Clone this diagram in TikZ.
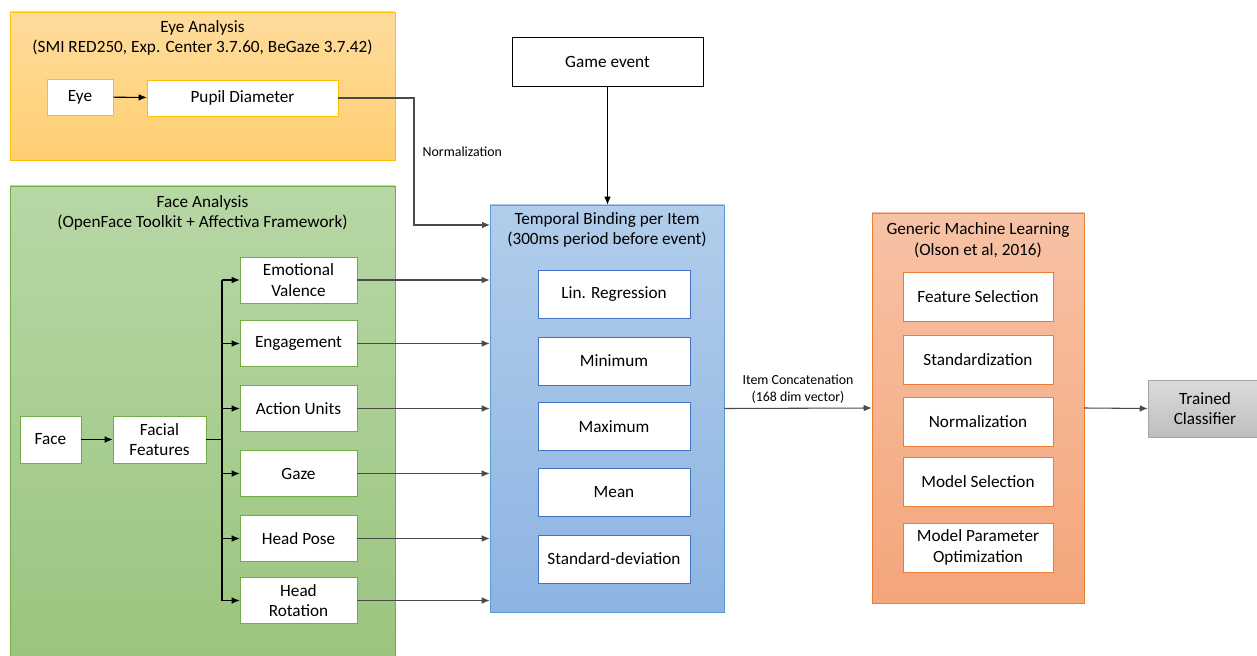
\documentclass[tikz,border=0pt]{standalone}
\usepackage{fontspec}
\setmainfont{Carlito}
\usepackage{tikz}
\usetikzlibrary{positioning}
\usetikzlibrary{arrows.meta}
\definecolor{eyeColor}{HTML}{FFC000}
\definecolor{eyeTop}{HTML}{FFDC9C}
\definecolor{eyeBottom}{HTML}{FFCE72}
\definecolor{faceColor}{HTML}{70AD47}
\definecolor{faceTop}{HTML}{B7D7A5}
\definecolor{faceBottom}{HTML}{9BC47E}
\definecolor{bindColor}{HTML}{5B9BD5}
\definecolor{bindTop}{HTML}{B1CDEB}
\definecolor{bindBottom}{HTML}{8DB4E2}
\definecolor{bindInner}{HTML}{4472C4}
\definecolor{learnColor}{HTML}{ED7D31}
\definecolor{learnTop}{HTML}{F7C2A5}
\definecolor{learnBottom}{HTML}{F4A57B}
\definecolor{trainColor}{HTML}{A5A5A5}
\definecolor{lineColor}{HTML}{4A4A4A}

\begin{document}
\begin{tikzpicture}[x=0.75pt,y=-0.75pt]

          \tikzstyle{textFont} = [font=\fontsize{12.9}{15.5}\selectfont];
          \tikzstyle{smallFont} = [font=\fontsize{10.4}{13}\selectfont];
          \tikzstyle{box} = [draw, fill=white, text=black, inner sep=0pt, align=center, textFont];
          \tikzstyle{eyeBox} = [box, draw=eyeColor];
          \tikzstyle{faceBox} = [box, draw=faceColor, minimum width=87.75pt, minimum height=34.5pt];
          \tikzstyle{bindBox} = [box, draw=bindInner, minimum width=114pt, minimum height=36pt];
          \tikzstyle{learnBox} = [box, draw=learnColor, minimum width=112.5pt, minimum height=36.75pt];
          \tikzstyle{group} = [draw, inner sep=0pt];
          \tikzstyle{title} = [align=center, textFont];

          \tikzstyle{normalEdge} = [draw=lineColor, thick];
          \tikzstyle{arrowEdge} = [normalEdge, -{Latex[length=6pt,width=5pt]}];

          \clip (0,0) rectangle (1257,656);

          \node[group, draw=eyeColor, top color=eyeTop, bottom color=eyeBottom,
                minimum width=288.75pt, minimum height=111pt] (eyeGroup) at (202.5,86) {};
          \node[title] (eyeTitle) at (202.5,38) {Eye Analysis\\(SMI RED250, Exp. Center 3.7.60, BeGaze 3.7.42)};
          \node[eyeBox, minimum width=49.5pt, minimum height=27pt] (eye) at (80,97) {Eye};
          \node[eyeBox, minimum width=143.25pt, minimum height=27pt] (pupil) at (242.5,98) {Pupil Diameter};

          \node[box, draw=black, minimum width=143.25pt, minimum height=36.75pt] (game) at (607.5,61.5) {Game event};

          \node[group, draw=faceColor, top color=faceTop, bottom color=faceBottom,
                minimum width=288.75pt, minimum height=360pt] (faceGroup) at (202.5,426) {};
          \node[title] (faceTitle) at (202.5,213) {Face Analysis\\(OpenFace Toolkit + Affectiva Framework)};
          \node[faceBox, minimum width=45.75pt, minimum height=35.25pt] (face) at (50.5,439.5) {Face};
          \node[faceBox, minimum width=69.75pt, minimum height=35.25pt] (facial) at (159.5,439.5) {Facial\\Features};
          \node[faceBox] (valence) at (298.5,280) {Emotional\\Valence};
          \node[faceBox] (engage) at (298.5,343.5) {Engagement};
          \node[faceBox] (action) at (298.5,408.5) {Action Units};
          \node[faceBox] (gaze) at (298.5,473.5) {Gaze};
          \node[faceBox] (pose) at (298.5,538.5) {Head Pose};
          \node[faceBox] (rotation) at (298.5,600.5) {Head\\Rotation};

          \node[group, draw=bindColor, top color=bindTop, bottom color=bindBottom,
                minimum width=175.5pt, minimum height=305.25pt] (binding) at (607,408.5) {};
          \node[title] (bindTitle) at (607,230) {Temporal Binding per Item\\(300ms period before event)};
          \node[bindBox] (linreg) at (614,294.5) {Lin. Regression};
          \node[bindBox] (minimum) at (614,361) {Minimum};
          \node[bindBox] (maximum) at (614,426.5) {Maximum};
          \node[bindBox] (mean) at (614,492.5) {Mean};
          \node[bindBox] (stddev) at (614,559) {Standard-deviation};

          \node[group, draw=learnColor, top color=learnTop, bottom color=learnBottom,
                minimum width=159pt, minimum height=292.5pt] (learning) at (978,408) {};
          \node[title] (learnTitle) at (978,240) {Generic Machine Learning\\(Olson et al, 2016)};
          \node[learnBox] (featsel) at (978,297) {Feature Selection};
          \node[learnBox] (standard) at (978,359.5) {Standardization};
          \node[learnBox] (normal) at (978,422) {Normalization};
          \node[learnBox] (modelsel) at (978,482) {Model Selection};
          \node[learnBox] (params) at (978,547.5) {Model Parameter\\Optimization};

          \node[box, draw=trainColor, top color=trainColor!40, bottom color=trainColor!72,
                minimum width=85.5pt, minimum height=42.75pt] (trained) at (1205,408.5) {Trained\\Classifier};

          \coordinate (normBend) at (414,98);
          \coordinate (normIn) at (490,225);
          \coordinate (branch) at (222,439.5);

          \draw[arrowEdge, draw=black] (eye) -- (pupil);
          \draw[arrowEdge] (pupil.east) -- (normBend) |- (normIn);
          \node[smallFont, anchor=west] (normLabel) at (418,152) {Normalization};

          \draw[arrowEdge, draw=black] (game) -- (game |- binding.north);

          \draw[arrowEdge, draw=black] (face) -- (facial);
          \draw[thick, black] (facial.east) -- (branch);
          \draw[thick, black] (branch |- valence) -- (branch |- rotation);
          \foreach \n in {valence,engage,action,gaze,pose,rotation}
          {
            \draw[arrowEdge, draw=black] (branch |- \n) -- (\n.west);
            \draw[arrowEdge] (\n.east) -- (\n.east -| binding.west);
          }

          \draw[arrowEdge] (binding.east) -- node[above, smallFont, align=center] (concatLabel) {Item Concatenation\\(168 dim vector)} (learning.west);
          \draw[arrowEdge] (learning.east) -- (trained.west);
        \end{tikzpicture}
\end{document}
